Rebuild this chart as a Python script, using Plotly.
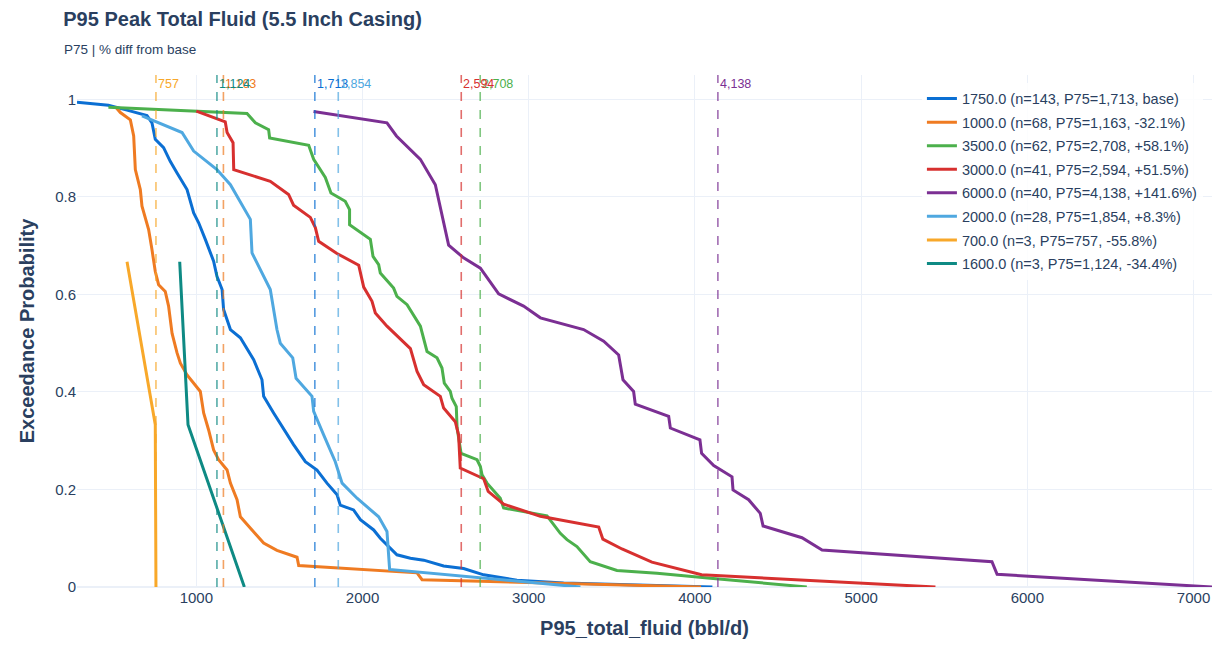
import plotly.graph_objects as go

# ---- data ----
categories = ["1750.0", "1000.0", "3500.0", "3000.0", "6000.0", "2000.0", "700.0", "1600.0"]
n_counts = [143, 68, 62, 41, 40, 28, 3, 3]
p75_values = [1713, 1163, 2708, 2594, 4138, 1854, 757, 1124]
pct_diff = ["base", "-32.1%", "+58.1%", "+51.5%", "+141.6%", "+8.3%", "-55.8%", "-34.4%"]

x_1750 = [282, 471, 583, 703, 733, 753, 803, 843, 884, 944, 984, 1014, 1054, 1104, 1124, 1155, 1164, 1205,
          1265, 1284, 1345, 1395, 1405, 1465, 1516, 1585, 1656, 1726, 1786, 1847, 1866, 1946, 1987, 2067,
          2107, 2157, 2207, 2288, 2368, 2488, 2608, 2729, 2929, 3210, 4105]
y_1750 = [0.994, 0.988, 0.978, 0.967, 0.952, 0.918, 0.901, 0.873, 0.849, 0.815, 0.767, 0.747, 0.713, 0.668,
          0.637, 0.610, 0.569, 0.528, 0.511, 0.500, 0.466, 0.425, 0.391, 0.357, 0.329, 0.292, 0.257, 0.240,
          0.213, 0.189, 0.168, 0.158, 0.138, 0.117, 0.100, 0.083, 0.066, 0.059, 0.055, 0.043, 0.038, 0.025,
          0.014, 0.008, 0.0]

x_1000 = [513, 543, 603, 623, 633, 663, 673, 713, 733, 753, 773, 813, 833, 854, 884, 904, 944, 994, 1024,
          1044, 1074, 1104, 1134, 1185, 1205, 1245, 1265, 1335, 1405, 1485, 1606, 1616, 2328, 2358, 4037]
y_1000 = [0.985, 0.973, 0.958, 0.925, 0.856, 0.815, 0.781, 0.733, 0.692, 0.647, 0.620, 0.606, 0.576, 0.520,
          0.480, 0.459, 0.435, 0.415, 0.401, 0.357, 0.322, 0.281, 0.261, 0.240, 0.213, 0.179, 0.144, 0.117,
          0.090, 0.075, 0.061, 0.044, 0.029, 0.015, 0.0]

x_3500 = [471, 1000, 1305, 1355, 1435, 1441, 1676, 1706, 1776, 1810, 1896, 1922, 1922, 2047, 2063, 2097, 2107,
          2187, 2207, 2268, 2348, 2388, 2448, 2478, 2492, 2528, 2538, 2564, 2569, 2593, 2689, 2709, 2719, 2749,
          2829, 2849, 3110, 3190, 3230, 3290, 3370, 3531, 3772, 4093, 4673]
y_3500 = [0.984, 0.975, 0.971, 0.952, 0.938, 0.921, 0.906, 0.877, 0.840, 0.808, 0.791, 0.774, 0.743, 0.713,
          0.678, 0.661, 0.644, 0.613, 0.596, 0.579, 0.535, 0.483, 0.470, 0.449, 0.418, 0.401, 0.387, 0.370,
          0.326, 0.274, 0.261, 0.247, 0.230, 0.213, 0.182, 0.162, 0.146, 0.110, 0.097, 0.083, 0.052, 0.034,
          0.028, 0.018, 0.0]

x_3000 = [1000, 1174, 1185, 1221, 1225, 1445, 1555, 1585, 1686, 1716, 1736, 1846, 1977, 2007, 2057, 2077, 2147,
          2288, 2328, 2368, 2468, 2488, 2558, 2578, 2588, 2729, 2756, 2849, 3070, 3421, 3446, 3561, 3741, 4040,
          5447]
y_3000 = [0.976, 0.954, 0.932, 0.911, 0.856, 0.832, 0.805, 0.783, 0.758, 0.737, 0.709, 0.684, 0.660, 0.615,
          0.586, 0.562, 0.535, 0.489, 0.442, 0.415, 0.391, 0.367, 0.339, 0.312, 0.244, 0.222, 0.196, 0.170,
          0.145, 0.123, 0.098, 0.078, 0.051, 0.025, 0.0]

x_6000 = [1705, 2147, 2204, 2348, 2438, 2488, 2518, 2608, 2709, 2819, 2969, 3070, 3330, 3451, 3541, 3567, 3631,
          3641, 3842, 3852, 4030, 4040, 4113, 4223, 4229, 4323, 4393, 4410, 4644, 4765, 5787, 5818, 7111]
y_6000 = [0.975, 0.952, 0.925, 0.877, 0.825, 0.750, 0.701, 0.675, 0.654, 0.601, 0.576, 0.552, 0.528, 0.504,
          0.476, 0.425, 0.401, 0.375, 0.350, 0.326, 0.302, 0.274, 0.249, 0.226, 0.199, 0.179, 0.151, 0.125,
          0.101, 0.076, 0.052, 0.026, 0.0]

x_2000 = [673, 914, 984, 1124, 1205, 1325, 1335, 1445, 1485, 1505, 1580, 1600, 1696, 1706, 1766, 1836, 1877,
          1967, 2097, 2147, 2163, 3311]
y_2000 = [0.966, 0.932, 0.894, 0.856, 0.825, 0.754, 0.685, 0.610, 0.528, 0.500, 0.470, 0.428, 0.391, 0.360,
          0.312, 0.257, 0.213, 0.182, 0.144, 0.114, 0.036, 0.0]

x_700 = [583, 753, 757]
y_700 = [0.667, 0.333, 0.0]

x_1600 = [900, 950, 1289]
y_1600 = [0.667, 0.333, 0.0]

series_x = [x_1750, x_1000, x_3500, x_3000, x_6000, x_2000, x_700, x_1600]
series_y = [y_1750, y_1000, y_3500, y_3000, y_6000, y_2000, y_700, y_1600]

colors = ["#0b6fd3", "#ef7b22", "#4cb04c", "#d7302f", "#7b2f93", "#4fa8e0", "#f8a82a", "#0e8a84"]

FONT = "Arial, Liberation Sans, sans-serif"

fig = go.Figure()
for cat, n, p75, d, xs, ys, c in zip(categories, n_counts, p75_values, pct_diff, series_x, series_y, colors):
    fig.add_trace(go.Scatter(
        x=xs, y=ys, mode="lines",
        name=f"{cat} (n={n}, P75={p75:,}, {d})",
        legendgroup=cat,
        line=dict(color=c, width=3),
    ))

for p75, c in zip(p75_values, colors):
    fig.add_vline(
        x=p75, line_dash="dash", line_color=c, line_width=1.6, opacity=0.7,
        annotation_text=f"{p75:,}", annotation_position="top right",
        annotation_font=dict(color=c, size=12.5, family=FONT),
    )

fig.update_layout(
    template="plotly_white",
    width=1217, height=647,
    font=dict(family=FONT, color="#2a3f5f"),
    margin=dict(l=77, r=5, t=75, b=60),
    title=dict(text="<b>P95 Peak Total Fluid (5.5 Inch Casing)</b>",
               x=0.052, xanchor="left", y=0.971, yanchor="middle",
               font=dict(size=20, family=FONT, color="#2a3f5f")),
    legend=dict(x=0.992, xanchor="right", y=0.985, yanchor="top",
                bgcolor="rgba(255,255,255,0.85)", font=dict(size=14.5, family=FONT),
                traceorder="grouped", tracegroupgap=1.7),
    xaxis=dict(title=dict(text="<b>P95_total_fluid (bbl/d)</b>", font=dict(size=20)),
               tickfont=dict(size=15), range=[282, 7111], showline=False),
    yaxis=dict(title=dict(text="<b>Exceedance Probability</b>", font=dict(size=20)),
               tickfont=dict(size=15), range=[0, 1.05], dtick=0.2),
)

fig.add_annotation(
    text="P75 | % diff from base", xref="paper", yref="paper",
    x=-0.0132, xanchor="left", y=1.049, yanchor="middle",
    showarrow=False, font=dict(size=13.5, family=FONT, color="#2a3f5f"),
)

fig.write_html("out.html")
